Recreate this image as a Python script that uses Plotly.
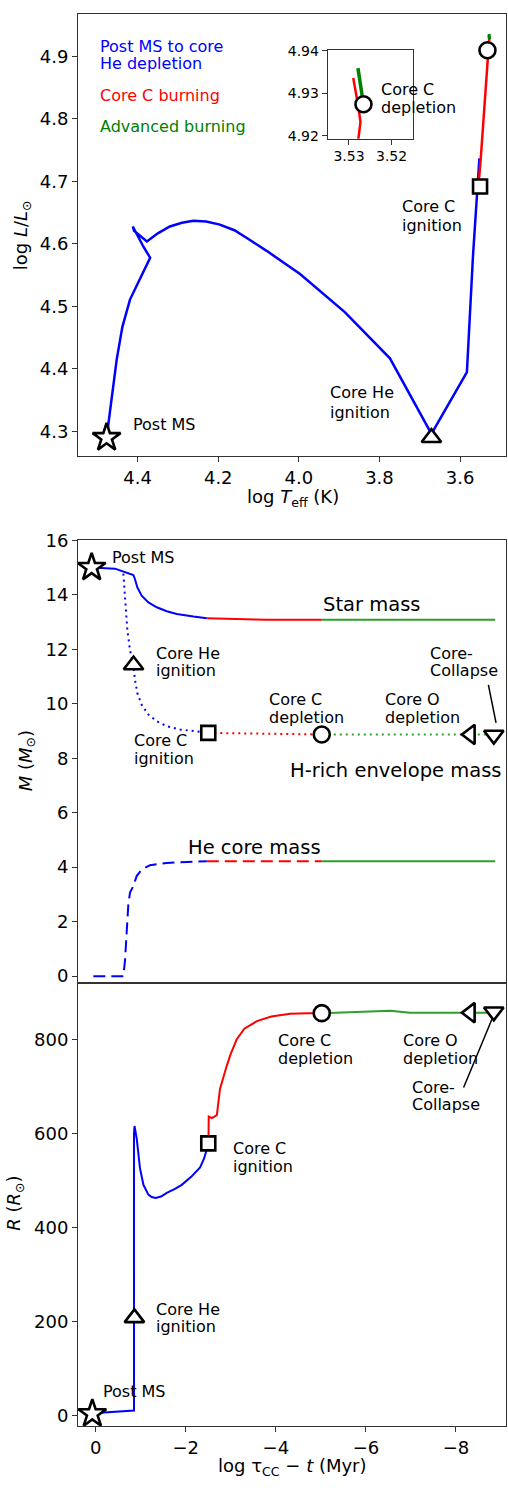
import plotly.graph_objects as go

W, H = 508, 1488
FONT = "DejaVu Sans"

# ---------------- HR diagram (log Teff, log L) ----------------
hr_blue_teff = [4.477, 4.474, 4.452, 4.438, 4.419, 4.369, 4.386, 4.412, 4.409, 4.377,
                4.350, 4.320, 4.290, 4.262, 4.230, 4.196, 4.160, 4.130, 4.080, 3.997,
                3.886, 3.774, 3.671, 3.583, 3.5695, 3.571, 3.568, 3.552]
hr_blue_logl = [4.290, 4.306, 4.415, 4.467, 4.511, 4.578, 4.596, 4.628, 4.621, 4.604,
                4.617, 4.628, 4.634, 4.637, 4.636, 4.631, 4.622, 4.610, 4.589, 4.552,
                4.491, 4.417, 4.296, 4.395, 4.573, 4.562, 4.580, 4.737]
hr_red_teff = [3.556, 3.5486, 3.5313, 3.5290, 3.5278, 3.5273, 3.5278, 3.5290]
hr_red_logl = [4.681, 4.737, 4.895, 4.912, 4.9193, 4.9232, 4.9268, 4.9336]
hr_green_teff = [3.5266, 3.5279]
hr_green_logl = [4.9274, 4.9359]

# event markers on the HR track
hr_evt_teff = [4.477, 3.671, 3.5504, 3.532]
hr_evt_logl = [4.290, 4.290, 4.692, 4.910]
hr_evt_sym = ["star", "triangle-up", "square", "circle"]
inset_evt_teff = [3.5266]
inset_evt_logl = [4.9274]

# ---------------- mass evolution vs log(tau_CC - t) ----------------
mstar_blue_t = [0.09, -0.429, -0.836, -0.873, -0.925, -1.021, -1.170, -1.356, -1.578, -1.80, -2.17, -2.467]
mstar_blue_m = [15.0, 14.959, 14.728, 14.571, 14.269, 13.964, 13.722, 13.541, 13.396, 13.298, 13.20, 13.142]
mstar_red_t = [-2.467, -3.06, -3.80, -5.02]
mstar_red_m = [13.142, 13.105, 13.08, 13.08]
mstar_green_t = [-5.02, -8.87]
mstar_green_m = [13.08, 13.08]

menv_blue_t = [-0.614, -0.636, -0.666, -0.703, -0.762, -0.836, -0.873, -0.925, -1.021,
               -1.170, -1.355, -1.577, -1.873, -2.318, -2.50]
menv_blue_m = [14.777, 14.147, 13.42, 12.692, 11.965, 11.42, 10.874, 10.389, 9.965,
               9.601, 9.359, 9.177, 9.056, 8.959, 8.93]
menv_red_t = [-2.50, -5.02]
menv_red_m = [8.93, 8.87]
menv_green_t = [-5.02, -8.87]
menv_green_m = [8.87, 8.87]

mhe_blue_t = [0.053, -0.614, -0.651, -0.688, -0.725, -0.762, -0.836, -0.910, -1.021,
              -1.207, -1.577, -2.022, -2.467]
mhe_blue_m = [0.0, 0.0, 0.582, 1.794, 2.642, 3.067, 3.309, 3.673, 3.915,
              4.073, 4.157, 4.194, 4.218]
mhe_red_t = [-2.467, -5.02]
mhe_red_m = [4.218, 4.218]
mhe_green_t = [-5.02, -8.87]
mhe_green_m = [4.218, 4.218]

mass_evt_t = [0.09, -0.84, -2.50, -5.02, -8.32, -8.84]
mass_evt_m = [15.0, 11.42, 8.93, 8.87, 8.87, 8.85]

# ---------------- radius evolution ----------------
rad_blue_t = [0.075, -0.85, -0.85, -0.862, -0.911, -0.984, -1.06, -1.169, -1.244, -1.33,
              -1.45, -1.578, -1.75, -1.911, -2.12, -2.318, -2.407, -2.504]
rad_blue_r = [5, 11, 600, 616, 589, 526, 491, 470, 465, 463,
              466, 474, 482, 491, 508, 528, 547, 579]
rad_red_t = [-2.504, -2.51, -2.51, -2.58, -2.69, -2.76, -2.84, -2.91, -3.0, -3.13,
             -3.30, -3.58, -3.90, -4.32, -4.70, -5.02]
rad_red_r = [579, 597, 636, 633, 639, 695, 722, 744, 770, 800,
             823, 839, 849, 855, 856, 856]
rad_green_t = [-5.02, -5.8, -6.54, -6.98, -8.87]
rad_green_r = [856, 858, 861, 857, 857]

rad_evt_t = [0.075, -0.86, -2.50, -5.02, -8.32, -8.84]
rad_evt_r = [4, 208, 579, 856, 857, 859]

evt_sym = ["star", "triangle-up", "square", "circle", "triangle-left", "triangle-down"]
evt_size = [21, 17, 14, 16, 17, 17]

BLUE, RED = "#0000ff", "#ff0000"
GREEN_HR, GREEN = "#008000", "#2ca02c"


def line(x, y, color, ax, width=2.0, dash="solid"):
    return go.Scatter(x=x, y=y, mode="lines", xaxis=ax[0], yaxis=ax[1],
                      line=dict(color=color, width=width, dash=dash),
                      showlegend=False, hoverinfo="skip")


def events(x, y, sym, size, ax):
    return go.Scatter(x=x, y=y, mode="markers", xaxis=ax[0], yaxis=ax[1],
                      marker=dict(symbol=sym, size=size, color="white", opacity=1,
                                  line=dict(color="#000000", width=2.6)),
                      cliponaxis=False, showlegend=False, hoverinfo="skip")


HR, INS, MS, RD = ("x", "y"), ("x4", "y4"), ("x2", "y2"), ("x3", "y3")
DOT = "2px,4px"
DASH = "12px,6px"

traces = [
    line(hr_blue_teff, hr_blue_logl, BLUE, HR, 2.5),
    line(hr_red_teff, hr_red_logl, RED, HR, 2.5),
    line(hr_green_teff, hr_green_logl, GREEN_HR, HR, 3),
    events(hr_evt_teff, hr_evt_logl, hr_evt_sym, [21, 17, 14, 16], HR),
    line(hr_red_teff, hr_red_logl, RED, INS, 2.5),
    line(hr_green_teff, hr_green_logl, GREEN_HR, INS, 3.5),
    events(inset_evt_teff, inset_evt_logl, ["circle"], [16], INS),

    line(mstar_blue_t, mstar_blue_m, BLUE, MS),
    line(mstar_red_t, mstar_red_m, RED, MS),
    line(mstar_green_t, mstar_green_m, GREEN, MS),
    line(menv_blue_t, menv_blue_m, BLUE, MS, dash=DOT),
    line(menv_red_t, menv_red_m, RED, MS, dash=DOT),
    line(menv_green_t, menv_green_m, GREEN, MS, dash=DOT),
    line(mhe_blue_t, mhe_blue_m, BLUE, MS, dash=DASH),
    line(mhe_red_t, mhe_red_m, RED, MS, dash=DASH),
    line(mhe_green_t, mhe_green_m, GREEN, MS),
    events(mass_evt_t, mass_evt_m, evt_sym, evt_size, MS),

    line(rad_blue_t, rad_blue_r, BLUE, RD),
    line(rad_red_t, rad_red_r, RED, RD),
    line(rad_green_t, rad_green_r, GREEN, RD),
    events(rad_evt_t, rad_evt_r, evt_sym, evt_size, RD),
]

fig = go.Figure(traces)


def px_x(x):
    return x / W


def px_y(y):
    return 1 - y / H


annotations = []


def label(text, x, y, size=16, color="black", xanchor="left", angle=0):
    annotations.append(dict(text=text, x=px_x(x), y=px_y(y), xref="paper", yref="paper",
                            xanchor=xanchor, yanchor="middle", showarrow=False,
                            textangle=angle,
                            font=dict(family=FONT, size=size, color=color)))


# HR panel: phase key and event labels
label("Post MS to core", 98, 36.7, 16, BLUE)
label("He depletion", 98, 54.3, 16, BLUE)
label("Core C burning", 98, 86, 16, RED)
label("Advanced burning", 98, 117.3, 16, GREEN_HR)
label("Core C", 379.3, 80)
label("depletion", 379.3, 98.7)
label("Core C", 400, 199)
label("ignition", 400, 218)
label("Core He", 327.7, 386.7)
label("ignition", 327.7, 406.7)
label("Post MS", 130.7, 419)

# mass panel
label("Post MS", 110, 552.7)
label("Star mass", 320.7, 600.7, 19.5)
label("Core He", 154.3, 650)
label("ignition", 154.3, 667.7)
label("Core C", 132.3, 738.3)
label("ignition", 132.3, 756)
label("Core C", 266.7, 696.7)
label("depletion", 266.7, 714.3)
label("Core O", 383.3, 696.7)
label("depletion", 383.3, 714.3)
label("Core-", 428.3, 650)
label("Collapse", 428.3, 667.7)
label("H-rich envelope mass", 503.5, 768.3, 19.5, xanchor="right")
label("He core mass", 186, 846, 19.5)

# radius panel
label("Core C", 275.7, 1041)
label("depletion", 275.7, 1059)
label("Core O", 401, 1041)
label("depletion", 401, 1059)
label("Core-", 410, 1088.3)
label("Collapse", 410, 1106)
label("Core C", 230.7, 1150)
label("ignition", 230.7, 1168.3)
label("Core He", 154.3, 1312.3)
label("ignition", 154.3, 1330)
label("Post MS", 101, 1396)

# axis titles
label("log <i>L</i>/<i>L</i><sub>⊙</sub>", 22, 227.5, 18, xanchor="center", angle=-90)
label("log <i>T</i><sub>eff</sub> (K)", 292.5, 493, 18, xanchor="center")
label("<i>M</i> (<i>M</i><sub>⊙</sub>)", 27, 759, 18, xanchor="center", angle=-90)
label("<i>R</i> (<i>R</i><sub>⊙</sub>)", 15, 1206, 18, xanchor="center", angle=-90)
label("log τ<sub>CC</sub> − <i>t</i> (Myr)", 292, 1472, 18, xanchor="center")

# pointer lines to the core-collapse markers
shapes = [
    dict(type="line", xref="x2", yref="y2", x0=-8.72, y0=10.69, x1=-8.89, y1=9.30,
         line=dict(color="black", width=1.5)),
    dict(type="line", xref="x3", yref="y3", x0=-8.17, y0=698, x1=-8.81, y1=845.7,
         line=dict(color="black", width=1.5)),
]

TICKFONT = dict(family=FONT, size=18, color="black")
AX = dict(showgrid=False, zeroline=False, showline=True, mirror=True,
          linecolor="#333333", linewidth=1, ticks="outside", ticklen=5,
          tickwidth=1, tickcolor="#333333", tickfont=TICKFONT)


def dom_x(l, r):
    return [px_x(l), px_x(r)]


def dom_y(top, bottom):
    return [px_y(bottom), px_y(top)]


fig.update_layout(
    width=W, height=H, margin=dict(l=0, r=0, t=0, b=0),
    paper_bgcolor="white", plot_bgcolor="white", showlegend=False,
    font=dict(family=FONT, color="black"),
    xaxis=dict(AX, domain=dom_x(78, 506), range=[4.548, 3.486], anchor="y",
               tickvals=[4.4, 4.2, 4.0, 3.8, 3.6], tickformat=".1f"),
    yaxis=dict(AX, domain=dom_y(4, 451), range=[4.260, 4.968], anchor="x",
               tickvals=[4.3, 4.4, 4.5, 4.6, 4.7, 4.8, 4.9], tickformat=".1f"),
    xaxis2=dict(AX, domain=dom_x(78, 506), range=[0.393, -9.111], anchor="y2",
                ticks="", showticklabels=False, matches="x3"),
    yaxis2=dict(AX, domain=dom_y(535, 982.7), range=[-0.244, 16.025], anchor="x2",
                tickvals=list(range(0, 17, 2))),
    xaxis3=dict(AX, domain=dom_x(78, 506), range=[0.393, -9.111], anchor="y3",
                tickvals=[0, -2, -4, -6, -8]),
    yaxis3=dict(AX, domain=dom_y(982.7, 1430.7), range=[-22.5, 920.6], anchor="x3",
                tickvals=[0, 200, 400, 600, 800]),
    xaxis4=dict(AX, domain=dom_x(327.7, 413.3), range=[3.535, 3.5149], anchor="y4",
                tickvals=[3.53, 3.52], tickformat=".2f",
                tickfont=dict(family=FONT, size=14, color="black")),
    yaxis4=dict(AX, domain=dom_y(40.7, 130), range=[4.9193, 4.9401], anchor="x4",
                tickvals=[4.92, 4.93, 4.94], tickformat=".2f",
                tickfont=dict(family=FONT, size=14, color="black")),
    annotations=annotations,
    shapes=shapes,
)

fig.write_html("out.html")
